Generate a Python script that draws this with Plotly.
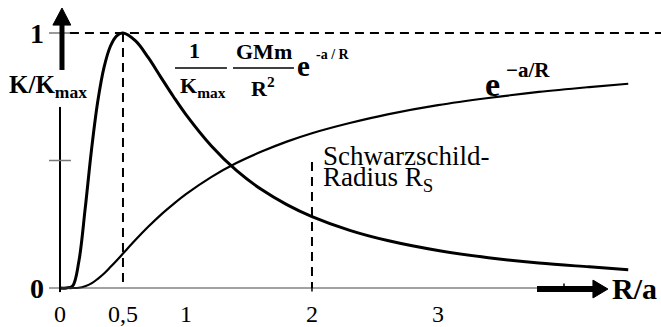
import plotly.graph_objects as go

# Sample points along R/a
r_over_a = [0.0, 0.05, 0.1, 0.15, 0.2, 0.25, 0.3, 0.35, 0.4, 0.45, 0.5, 0.6, 0.7, 0.8, 0.9,
            1.0, 1.2, 1.4, 1.6, 1.8, 2.0, 2.3, 2.6, 3.0, 3.4, 3.8, 4.2, 4.51]
# Normalised kinetic energy K/Kmax
k_norm = [0.0, 0.0, 0.008, 0.105, 0.311, 0.541, 0.732, 0.866, 0.948, 0.989, 1.0, 0.969, 0.904,
          0.827, 0.751, 0.680, 0.558, 0.461, 0.386, 0.327, 0.280, 0.226, 0.186, 0.147, 0.119,
          0.098, 0.083, 0.072]
# Boltzmann-like factor e^(-a/R)
exp_factor = [0.0, 0.0, 0.0, 0.001, 0.007, 0.018, 0.036, 0.057, 0.082, 0.108, 0.135, 0.189, 0.240,
              0.287, 0.329, 0.368, 0.435, 0.490, 0.535, 0.574, 0.607, 0.647, 0.681, 0.717, 0.745,
              0.769, 0.788, 0.801]

x_tick_vals = [0, 0.5, 1, 2, 3]
x_tick_text = ["0", "0,5", "1", "2", "3"]
y_tick_vals = [0, 1]
y_tick_text = ["0", "1"]

X_RANGE = [-0.476, 4.770]
Y_RANGE = [-0.1529, 1.1294]

SERIF = "'Liberation Serif', 'Times New Roman', Times, serif"

fig = go.Figure()
fig.add_trace(go.Scatter(x=r_over_a, y=k_norm, mode="lines", line=dict(color="black", width=3, shape="spline"),
                         hoverinfo="skip"))
fig.add_trace(go.Scatter(x=r_over_a, y=exp_factor, mode="lines", line=dict(color="black", width=2.2, shape="spline"),
                         hoverinfo="skip"))

shapes = []
# axes
shapes.append(dict(type="line", x0=-0.087, x1=4.0, y0=0, y1=0, line=dict(color="#444", width=1)))
shapes.append(dict(type="line", x0=0, x1=0, y0=-0.016, y1=0.71, line=dict(color="black", width=2)))
# small y ticks
for yv in [0.5, 1.0]:
    shapes.append(dict(type="line", x0=-0.087, x1=0.087, y0=yv, y1=yv, line=dict(color="#777", width=1.5)))
# small x ticks
for xv in [2, 4]:
    shapes.append(dict(type="line", x0=xv, x1=xv, y0=-0.014, y1=0.018, line=dict(color="black", width=1.5)))
# dashed guide lines
dash = dict(color="black", width=2, dash="9px,6px")
shapes.append(dict(type="line", x0=0.079, x1=X_RANGE[1], y0=1, y1=1, line=dash))
shapes.append(dict(type="line", x0=0.5, x1=0.5, y0=1, y1=0, line=dash))
shapes.append(dict(type="line", x0=2.0, x1=2.0, y0=0.494, y1=0, line=dash))
# vertical arrow
shapes.append(dict(type="line", x0=0.016, x1=0.016, y0=0.855, y1=1.04, line=dict(color="black", width=5)))
shapes.append(dict(type="path", path="M -0.056 1.031 L 0.086 1.031 L 0.016 1.098 Z",
                   fillcolor="black", line=dict(color="black", width=1)))
# horizontal arrow
shapes.append(dict(type="line", x0=3.786, x1=4.24, y0=-0.004, y1=-0.004, line=dict(color="black", width=6)))
shapes.append(dict(type="path", path="M 4.23 0.031 L 4.23 -0.039 L 4.349 -0.004 Z",
                   fillcolor="black", line=dict(color="black", width=1)))
# fraction bars
shapes.append(dict(type="line", x0=0.913, x1=1.325, y0=0.863, y1=0.863, line=dict(color="black", width=1.5)))
shapes.append(dict(type="line", x0=1.373, x1=1.857, y0=0.863, y1=0.863, line=dict(color="black", width=1.5)))

ann = []


def txt(x, y, text, size, bold=False, xanchor="center", yanchor="middle"):
    if bold:
        text = "<b>" + text + "</b>"
    ann.append(dict(x=x, y=y, xref="x", yref="y", text=text, showarrow=False, xanchor=xanchor,
                    yanchor=yanchor, font=dict(family=SERIF, size=size, color="black")))


for v, t in zip(x_tick_vals, x_tick_text):
    txt(v, -0.1, t, 24)
for v, t in zip(y_tick_vals, y_tick_text):
    txt(-0.183, v, t, 28, bold=True)

txt(-0.095, 0.79, "K/K<sub>max</sub>", 25, bold=True)
txt(4.56, 0.0, "R/a", 30, bold=True)

# formula labels
txt(1.071, 0.933, "1", 22, bold=True)
txt(1.135, 0.79, "K<sub>max</sub>", 22, bold=True)
txt(1.619, 0.929, "GMm", 22, bold=True)
txt(1.611, 0.79, "R<sup>2</sup>", 22, bold=True)
txt(1.929, 0.87, "e", 29, bold=True)
txt(2.167, 0.914, "-a / R", 14, bold=True)

txt(3.43, 0.80, "e", 34, bold=True)
txt(3.714, 0.855, "\u2212a/R", 21, bold=True)

txt(2.071, 0.518, "Schwarzschild-", 27, xanchor="left")
txt(2.071, 0.427, "Radius R<sub>S</sub>", 27, xanchor="left")

fig.update_layout(
    width=661, height=327, margin=dict(l=0, r=0, t=0, b=0),
    paper_bgcolor="white", plot_bgcolor="white", showlegend=False,
    font=dict(family=SERIF),
    xaxis=dict(range=X_RANGE, visible=False, fixedrange=True),
    yaxis=dict(range=Y_RANGE, visible=False, fixedrange=True),
    shapes=shapes, annotations=ann,
)

fig.write_html("out.html")
